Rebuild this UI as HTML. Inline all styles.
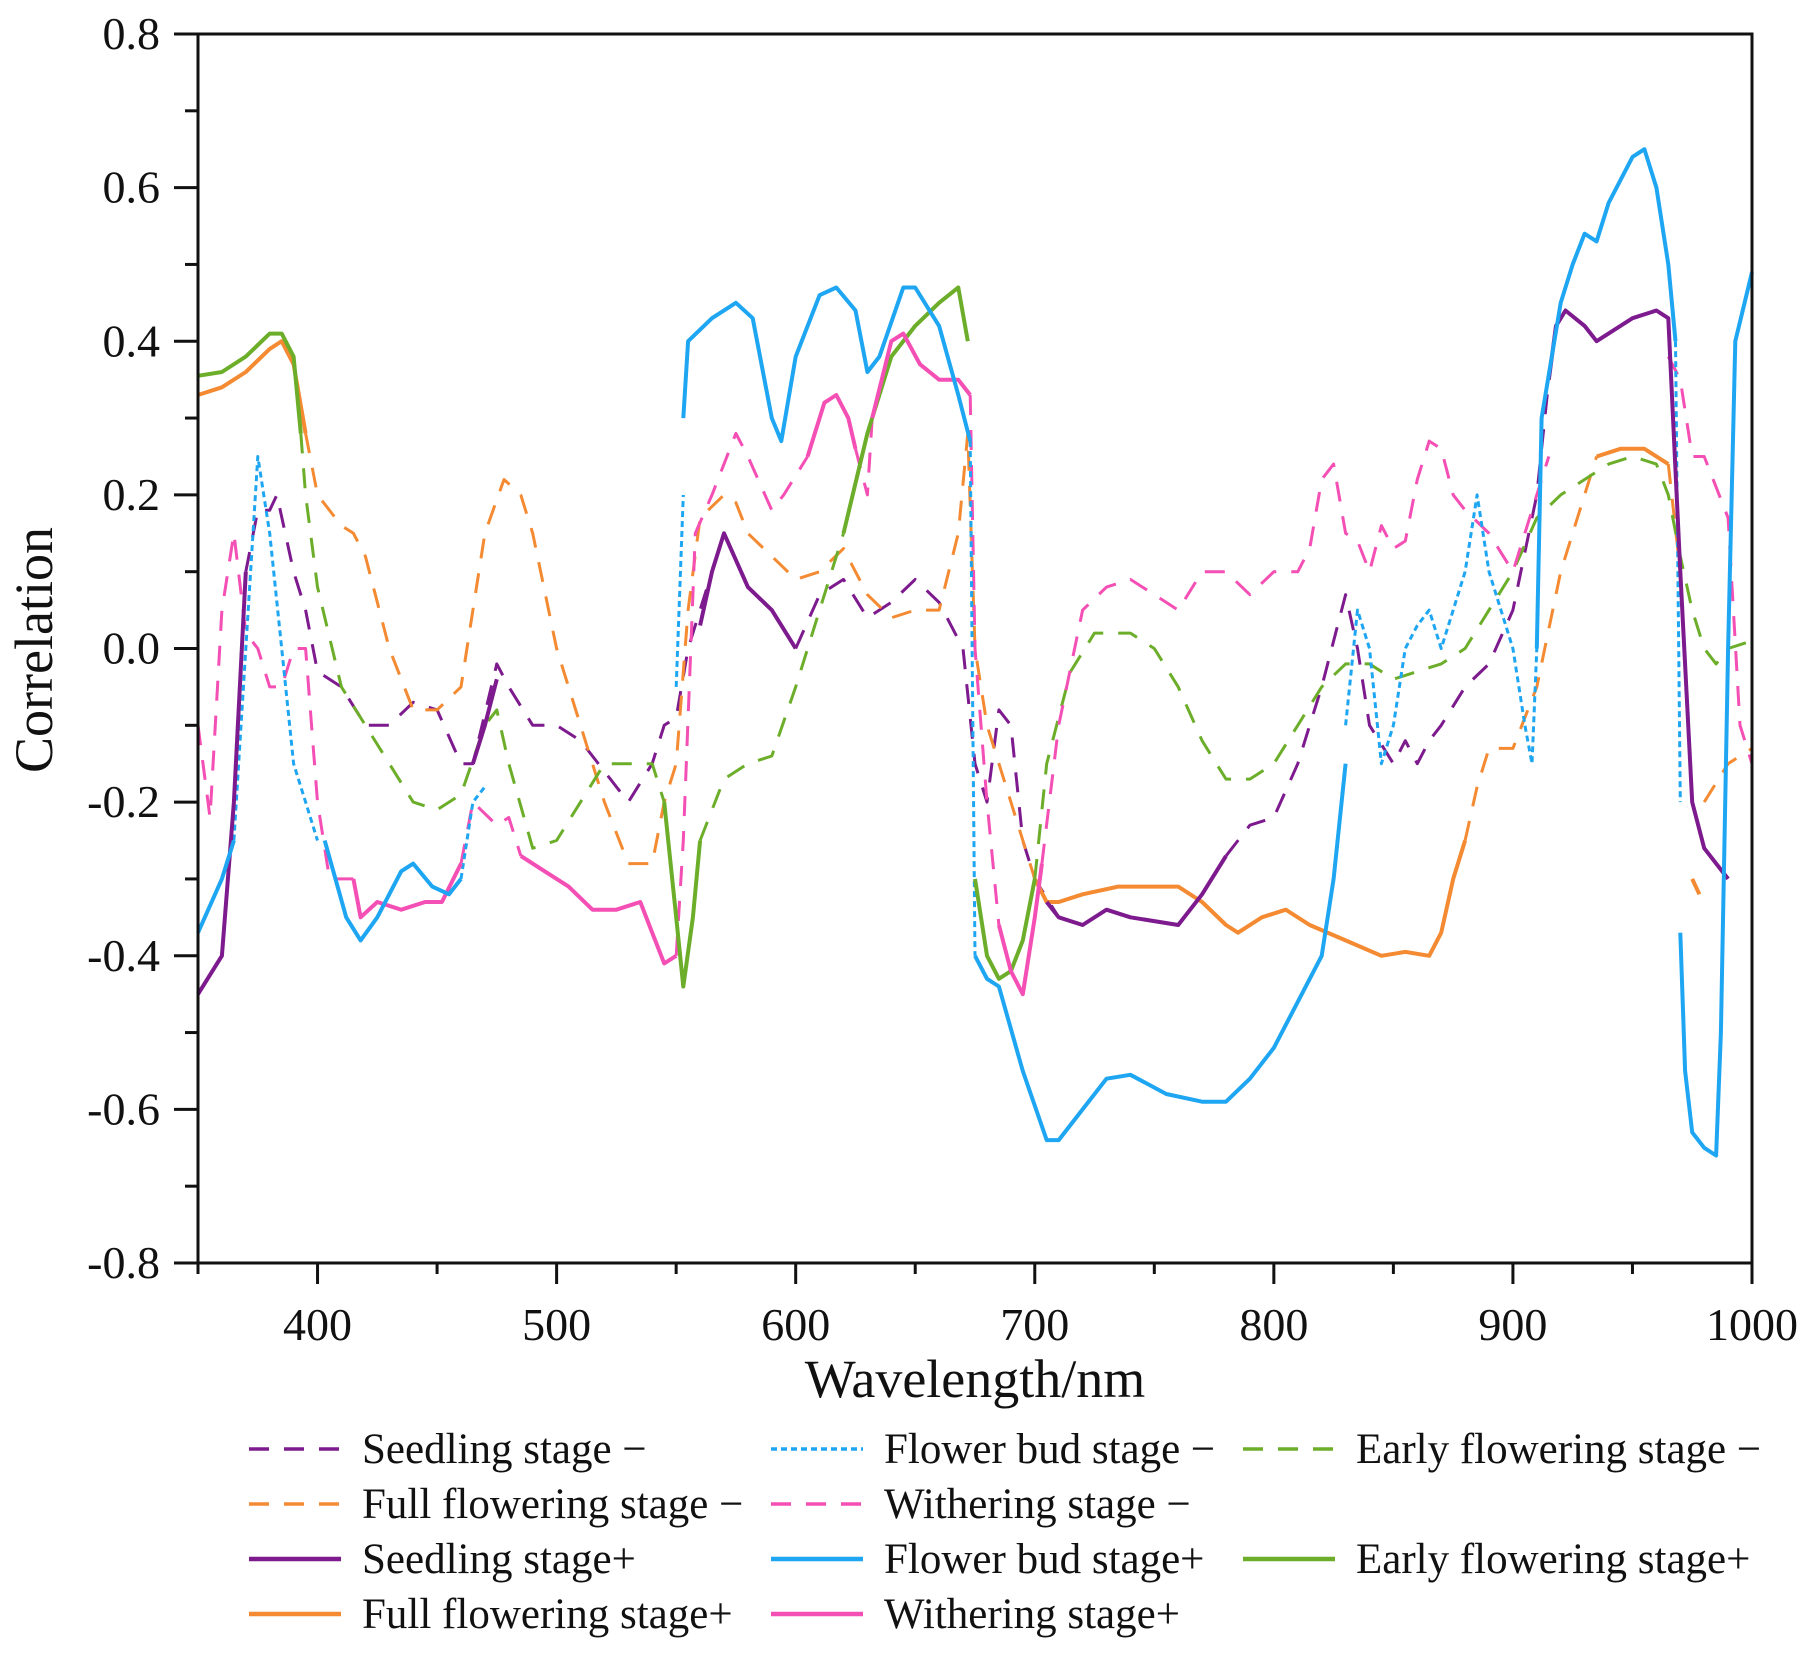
<!DOCTYPE html>
<html><head><meta charset="utf-8"><style>
html,body{margin:0;padding:0;background:#fff}
svg{display:block}
text{font-family:"Liberation Serif",serif;fill:#111}
</style></head><body>
<svg id="chart" width="1818" height="1653" viewBox="0 0 1818 1653" xmlns="http://www.w3.org/2000/svg">
<g id="marks"></g>
<g id="axes"></g>
<g id="legend"></g>
</svg>
<script>
const xTicks=[400,500,600,700,800,900,1000];
const yTicks=[-0.8,-0.6,-0.4,-0.2,0.0,0.2,0.4,0.6,0.8];
const yTickLabels=["-0.8","-0.6","-0.4","-0.2","0.0","0.2","0.4","0.6","0.8"];

const seedPlusWl=[350,360,365,370,null,465,470,475,null,560,565,570,580,590,600,null,705,710,720,730,740,760,770,780,null,915,918,922,930,935,950,960,965,970,975,980,990];
const seedPlusVal=[-0.45,-0.4,-0.2,0.1,null,-0.15,-0.1,-0.04,null,0.03,0.1,0.15,0.08,0.05,0.0,null,-0.33,-0.35,-0.36,-0.34,-0.35,-0.36,-0.32,-0.27,null,0.35,0.42,0.44,0.42,0.40,0.43,0.44,0.43,0.1,-0.2,-0.26,-0.3];

const budPlusWl=[350,360,365,null,403,412,418,425,435,440,448,455,460,null,553,555,565,575,582,590,594,600,610,617,625,630,635,645,650,660,668,673,null,675,680,685,695,705,710,720,730,740,755,770,780,790,800,810,820,825,830,null,910,912,920,925,930,935,940,950,955,960,965,968,null,970,972,975,980,985,987,990,993,1000];
const budPlusVal=[-0.37,-0.3,-0.25,null,-0.25,-0.35,-0.38,-0.35,-0.29,-0.28,-0.31,-0.32,-0.3,null,0.3,0.4,0.43,0.45,0.43,0.3,0.27,0.38,0.46,0.47,0.44,0.36,0.38,0.47,0.47,0.42,0.33,0.27,null,-0.4,-0.43,-0.44,-0.55,-0.64,-0.64,-0.6,-0.56,-0.555,-0.58,-0.59,-0.59,-0.56,-0.52,-0.46,-0.4,-0.3,-0.15,null,0.0,0.3,0.45,0.5,0.54,0.53,0.58,0.64,0.65,0.6,0.5,0.4,null,-0.37,-0.55,-0.63,-0.65,-0.66,-0.5,0.0,0.4,0.49];

const earlyPlusWl=[350,360,370,380,385,390,393,null,545,550,553,557,560,null,620,630,640,650,660,668,672,null,675,680,685,690,695,700];
const earlyPlusVal=[0.355,0.36,0.38,0.41,0.41,0.38,0.28,null,-0.2,-0.35,-0.44,-0.35,-0.25,null,0.15,0.28,0.38,0.42,0.45,0.47,0.4,null,-0.3,-0.4,-0.43,-0.42,-0.38,-0.3];

const fullPlusWl=[350,360,370,380,385,390,395,null,700,705,710,720,735,760,770,780,785,795,805,815,830,845,855,865,870,875,880,null,935,945,955,965,null,975,978];
const fullPlusVal=[0.33,0.34,0.36,0.39,0.4,0.37,0.28,null,-0.3,-0.33,-0.33,-0.32,-0.31,-0.31,-0.33,-0.36,-0.37,-0.35,-0.34,-0.36,-0.38,-0.4,-0.395,-0.4,-0.37,-0.3,-0.25,null,0.25,0.26,0.26,0.24,null,-0.3,-0.32];

const witherPlusWl=[415,418,425,435,445,452,460,null,485,495,505,515,525,535,540,545,550,null,605,612,617,622,625,null,632,640,645,652,660,668,673,null,685,690,695,700,703];
const witherPlusVal=[-0.3,-0.35,-0.33,-0.34,-0.33,-0.33,-0.28,null,-0.27,-0.29,-0.31,-0.34,-0.34,-0.33,-0.37,-0.41,-0.4,null,0.25,0.32,0.33,0.3,0.26,null,0.3,0.4,0.41,0.37,0.35,0.35,0.33,null,-0.36,-0.42,-0.45,-0.35,-0.28];

const seedMinusWl=[370,375,380,383,390,395,400,410,420,430,440,450,460,465,475,480,490,500,510,520,530,540,545,550,555,565,null,600,610,620,630,640,650,660,670,675,680,685,690,695,700,710,null,780,790,800,810,815,820,830,835,840,850,855,860,865,870,880,890,900,910,915];
const seedMinusVal=[0.1,0.18,0.18,0.2,0.1,0.05,-0.03,-0.05,-0.1,-0.1,-0.07,-0.08,-0.15,-0.15,-0.02,-0.05,-0.1,-0.1,-0.12,-0.16,-0.2,-0.15,-0.1,-0.09,0.0,0.1,null,0.0,0.07,0.09,0.04,0.06,0.09,0.06,0.0,-0.15,-0.2,-0.08,-0.1,-0.25,-0.3,-0.35,null,-0.27,-0.23,-0.22,-0.15,-0.1,-0.05,0.07,0.0,-0.1,-0.15,-0.12,-0.15,-0.12,-0.1,-0.05,-0.02,0.05,0.2,0.35];

const budMinusWl=[365,370,375,380,385,390,395,400,null,460,465,470,null,550,553,null,673,675,null,830,835,840,845,850,855,860,865,870,875,880,885,890,900,905,908,910,null,968,970];
const budMinusVal=[-0.25,0.0,0.25,0.15,0.0,-0.15,-0.2,-0.25,null,-0.3,-0.2,-0.18,null,-0.05,0.2,null,0.27,-0.4,null,-0.1,0.05,0.0,-0.15,-0.1,0.0,0.03,0.05,0.0,0.05,0.1,0.2,0.1,0.0,-0.1,-0.15,0.0,null,0.4,-0.2];

const earlyMinusWl=[393,395,400,410,420,430,440,450,460,470,475,480,490,500,510,520,530,540,545,null,560,570,580,590,600,610,620,null,700,705,715,725,740,750,760,770,780,790,800,810,820,830,840,850,860,870,880,890,900,910,920,930,940,950,960,965,970,975,980,985,990,1000];
const earlyMinusVal=[0.28,0.2,0.08,-0.05,-0.1,-0.15,-0.2,-0.21,-0.19,-0.1,-0.08,-0.15,-0.26,-0.25,-0.2,-0.15,-0.15,-0.15,-0.2,null,-0.25,-0.17,-0.15,-0.14,-0.05,0.05,0.15,null,-0.3,-0.15,-0.03,0.02,0.02,0.0,-0.05,-0.12,-0.17,-0.17,-0.15,-0.1,-0.05,-0.02,-0.02,-0.04,-0.03,-0.02,0.0,0.05,0.1,0.17,0.2,0.22,0.24,0.25,0.24,0.2,0.12,0.05,0.0,-0.02,0.0,0.01];

const fullMinusWl=[395,400,410,415,420,430,440,450,460,465,470,478,485,490,500,510,520,530,540,545,550,555,560,570,575,580,590,600,610,620,630,640,650,660,668,672,675,680,690,700,null,880,885,890,900,910,920,930,935,null,965,970,975,null,980,990,1000];
const fullMinusVal=[0.28,0.2,0.16,0.15,0.12,0.0,-0.08,-0.08,-0.05,0.05,0.15,0.22,0.2,0.15,0.0,-0.1,-0.2,-0.28,-0.28,-0.2,-0.15,0.05,0.17,0.2,0.19,0.15,0.12,0.09,0.1,0.13,0.07,0.04,0.05,0.05,0.15,0.28,0.0,-0.1,-0.2,-0.3,null,-0.25,-0.18,-0.13,-0.13,-0.05,0.1,0.2,0.25,null,0.24,0.1,-0.2,null,-0.2,-0.15,-0.13];

const witherMinusWl=[350,355,360,365,370,375,380,385,390,395,400,405,410,415,null,460,465,475,480,485,null,550,553,558,565,575,580,590,595,605,null,625,630,632,null,673,675,680,685,null,703,710,720,730,740,750,760,770,780,790,800,810,815,820,825,830,835,840,845,850,855,860,865,870,875,880,890,900,910,915,null,965,970,975,980,990,995,1000];
const witherMinusVal=[-0.1,-0.22,0.05,0.15,0.02,0.0,-0.05,-0.05,0.0,0.0,-0.2,-0.3,-0.3,-0.3,null,-0.28,-0.2,-0.23,-0.22,-0.27,null,-0.4,-0.25,0.15,0.2,0.28,0.25,0.18,0.2,0.25,null,0.26,0.2,0.3,null,0.33,0.0,-0.2,-0.36,null,-0.28,-0.1,0.05,0.08,0.09,0.07,0.05,0.1,0.1,0.07,0.1,0.1,0.13,0.22,0.24,0.15,0.14,0.1,0.16,0.13,0.14,0.22,0.27,0.26,0.2,0.18,0.15,0.1,0.2,0.25,null,0.38,0.35,0.25,0.25,0.17,-0.1,-0.15];

const NS="http://www.w3.org/2000/svg";
const L=198,R=1752,T=34,B=1263;
function xs(w){return L+(w-350)/(1000-350)*(R-L);}
function ys(v){return B-(v+0.8)/1.6*(B-T);}
function mk(tag,attrs,parent){const e=document.createElementNS(NS,tag);for(const k in attrs)e.setAttribute(k,attrs[k]);parent.appendChild(e);return e;}
const COL={purple:"#7d1a8e",blue:"#1ea6f2",green:"#6cae2a",orange:"#f48a32",pink:"#f44fb4"};
const DASH="20 15",DOT="6 4";
const series=[
 ["seedling-minus-line",seedMinusWl,seedMinusVal,COL.purple,DASH,3],
 ["full-flowering-minus-line",fullMinusWl,fullMinusVal,COL.orange,DASH,3],
 ["early-flowering-minus-line",earlyMinusWl,earlyMinusVal,COL.green,DASH,3],
 ["withering-minus-line",witherMinusWl,witherMinusVal,COL.pink,DASH,3],
 ["flower-bud-minus-line",budMinusWl,budMinusVal,COL.blue,DOT,3],
 ["full-flowering-plus-line",fullPlusWl,fullPlusVal,COL.orange,"",4],
 ["early-flowering-plus-line",earlyPlusWl,earlyPlusVal,COL.green,"",4],
 ["seedling-plus-line",seedPlusWl,seedPlusVal,COL.purple,"",4],
 ["withering-plus-line",witherPlusWl,witherPlusVal,COL.pink,"",4],
 ["flower-bud-plus-line",budPlusWl,budPlusVal,COL.blue,"",4]
];
const marks=document.getElementById('marks');
series.forEach(s=>{
 let d="",pen=false;
 for(let i=0;i<s[1].length;i++){
  if(s[1][i]===null||s[2][i]===null){pen=false;continue;}
  d+=(pen?"L":"M")+xs(s[1][i]).toFixed(1)+","+ys(s[2][i]).toFixed(1);pen=true;
 }
 const p=mk('path',{d:d,fill:"none",stroke:s[3],"stroke-width":s[5],"stroke-linejoin":"round"},marks);
 if(s[4])p.setAttribute('stroke-dasharray',s[4]);
 
 
});
const ax=document.getElementById('axes');
const frame=mk('rect',{x:L,y:T,width:R-L,height:B-T,fill:"none",stroke:"#111","stroke-width":3},ax);


for(let w=350;w<=1000;w+=50){
 const major=w%100===0;
 mk('line',{x1:xs(w),x2:xs(w),y1:B,y2:B+(major?21:11),stroke:"#111","stroke-width":3},ax);
}
xTicks.forEach(w=>{
 const t=mk('text',{x:xs(w),y:B+77,"text-anchor":"middle","font-size":46},ax);t.textContent=w;
 
 
});
for(let v=-0.8;v<=0.801;v+=0.1){
 const major=Math.round(v*10)%2===0;
 mk('line',{x1:L-(major?24:13),x2:L,y1:ys(v),y2:ys(v),stroke:"#111","stroke-width":3},ax);
}
yTicks.forEach((v,i)=>{
 const t=mk('text',{x:160,y:ys(v)+15,"text-anchor":"end","font-size":46},ax);t.textContent=yTickLabels[i];
 
 
});
const xt=mk('text',{x:(L+R)/2,y:1397,"text-anchor":"middle","font-size":54},ax);xt.textContent="Wavelength/nm";


const yt=mk('text',{x:0,y:0,"text-anchor":"middle","font-size":54,transform:"translate(52,650) rotate(-90)"},ax);yt.textContent="Correlation";



const legendLabels=["Seedling stage \u2212","Flower bud stage \u2212","Early flowering stage \u2212","Full flowering stage \u2212","Withering stage \u2212","Seedling stage+","Flower bud stage+","Early flowering stage+","Full flowering stage+","Withering stage+"];
const legendStyles=[[COL.purple,DASH],[COL.blue,DOT],[COL.green,DASH],[COL.orange,DASH],[COL.pink,DASH],[COL.purple,""],[COL.blue,""],[COL.green,""],[COL.orange,""],[COL.pink,""]];
const legendPos=[[0,0],[1,0],[2,0],[0,1],[1,1],[0,2],[1,2],[2,2],[0,3],[1,3]];
const colX=[249,771,1243],rowY=[1449,1504,1559,1614];
const lg=document.getElementById('legend');
legendLabels.forEach((lab,i)=>{
 const g=mk('g',{},lg);
 
 
 const x=colX[legendPos[i][0]],y=rowY[legendPos[i][1]];
 const ln=mk('line',{x1:x,x2:x+92,y1:y,y2:y,stroke:legendStyles[i][0],"stroke-width":legendStyles[i][1]?3.5:4.5},g);
 if(legendStyles[i][1])ln.setAttribute('stroke-dasharray',legendStyles[i][1]);
 const t=mk('text',{x:x+113,y:y+14,"font-size":43},g);t.textContent=lab;
});
</script>
</body></html>
